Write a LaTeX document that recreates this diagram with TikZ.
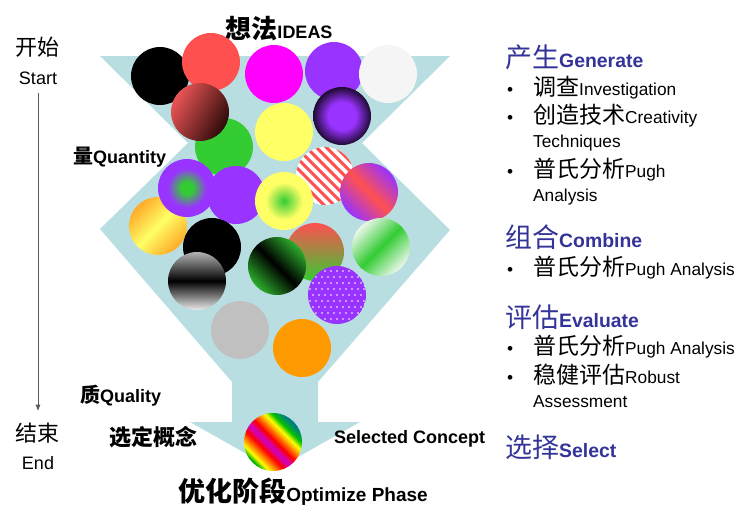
\documentclass[tikz,border=0pt]{standalone}
\usepackage{fontspec}
\setmainfont{Liberation Sans}
\newfontfamily\cjk{Noto Sans CJK SC}
\usetikzlibrary{arrows.meta}

\definecolor{funnel}{RGB}{185,222,226}
\definecolor{headblue}{RGB}{51,51,153}
\definecolor{salmon}{RGB}{255,80,80}
\definecolor{fuchsia}{RGB}{255,0,255}
\definecolor{vio}{RGB}{153,51,255}
\definecolor{grn}{RGB}{51,204,51}
\definecolor{ylw}{RGB}{255,255,102}
\definecolor{org}{RGB}{255,153,0}
\definecolor{silver}{RGB}{192,192,192}
\definecolor{snow}{RGB}{245,245,245}
\definecolor{ballred}{RGB}{235,85,85}
\definecolor{maroon}{RGB}{45,10,10}
\definecolor{amber}{RGB}{255,170,40}
\definecolor{mint}{RGB}{236,247,236}

\newcommand\zh[2][23]{{\cjk\fontsize{#1}{#1}\selectfont #2}}
\newcommand\bul{\makebox[26pt][l]{\textbullet}}

\pgfdeclareradialshading{purplecore}{\pgfpoint{0bp}{0bp}}{%
  color(0bp)=(vio); color(12bp)=(vio); color(25bp)=(vio!20!black); color(50bp)=(vio!20!black)}
\pgfdeclareradialshading{greencore}{\pgfpoint{0bp}{0bp}}{%
  color(0bp)=(grn); color(5bp)=(grn); color(17bp)=(vio); color(50bp)=(vio)}
\pgfdeclareradialshading{limecore}{\pgfpoint{0bp}{0bp}}{%
  color(0bp)=(grn); color(16bp)=(ylw); color(50bp)=(ylw)}
\pgfdeclarehorizontalshading{rainbow}{100bp}{%
  color(0bp)=(green!50!black); color(26bp)=(green!70!black); color(30bp)=(yellow);
  color(35bp)=(orange); color(40bp)=(red); color(46bp)=(magenta!60!violet);
  color(52bp)=(red); color(57bp)=(orange); color(62bp)=(yellow);
  color(67bp)=(green!75!black); color(73bp)=(teal); color(100bp)=(teal)}

\begin{document}
\begin{tikzpicture}[
  x=1pt, y=-1pt,
  lbl/.style={inner sep=0pt, font=\bfseries\fontsize{18}{18}\selectfont},
  head/.style={anchor=west, inner sep=0pt, text=headblue,
    font=\bfseries\fontsize{19.4}{20}\selectfont},
  item/.style={anchor=west, inner sep=0pt, font=\fontsize{17.3}{18}\selectfont},
  side/.style={inner sep=1pt, font=\fontsize{18}{18}\selectfont},
  timeline/.style={draw=black!65, line width=0.8pt,
    -{Triangle[length=6pt, width=4.5pt]}, shorten <=7pt, shorten >=11pt}
]
  \useasboundingbox (0,0) rectangle (742,507);

  % funnel body
  \fill[funnel] (100,56) -- (450,56) -- (362,143) -- (450,230) -- (318,382)
    -- (318,422) -- (360,422) -- (275,470) -- (190,422) -- (232,422)
    -- (232,382) -- (100,229) -- (188,143) -- cycle;

  % ideas, back to front
  \foreach \x/\y/\c in {160/76/black, 211/62/salmon, 274/74/fuchsia,
                        334/71/vio, 388/74/snow, 224/147/grn, 284/132/ylw}
    \fill[\c] (\x,\y) circle[radius=29pt];
  \shade[top color=ballred, bottom color=maroon, shading angle=60]
    (200,112) circle[radius=29pt];
  \shade[shading=purplecore] (342,116) circle[radius=29pt];
  \begin{scope}
    \clip (325,176) circle[radius=29pt];
    \fill[white] (325,176) circle[radius=29pt];
    \foreach \k in {-6,...,6}
      \draw[salmon, line width=3pt] (285+10*\k,136) -- ++(80,80);
  \end{scope}
  \shade[top color=amber, bottom color=amber, middle color=ylw, shading angle=45]
    (158,226) circle[radius=29pt];
  \fill[vio] (236,195) circle[radius=29pt];
  \shade[shading=greencore] (187,188) circle[radius=29pt];
  \shade[shading=limecore] (284,201) circle[radius=29pt];
  \shade[top color=vio, bottom color=vio, middle color=salmon, shading angle=-45]
    (369,192) circle[radius=29pt];
  \fill[black] (212,247) circle[radius=29pt];
  \shade[top color=salmon, bottom color=grn] (315,252) circle[radius=29pt];
  \shade[top color=mint, bottom color=mint, middle color=grn, shading angle=45]
    (381,247) circle[radius=29pt];
  \shade[top color=black!30, bottom color=black!8, middle color=black]
    (197,281) circle[radius=29pt];
  \shade[top color=grn!85!black, bottom color=grn!85!black, middle color=black,
    shading angle=-45] (277,266) circle[radius=29pt];
  \begin{scope}
    \clip (337,295) circle[radius=29pt];
    \fill[vio] (337,295) circle[radius=29pt];
    \foreach \i in {-5,...,5}
      \foreach \j in {-5,...,5}
        \fill[white] ({337+6*\i+3*mod(\j,2)},{295+6*\j}) circle[radius=0.8pt];
  \end{scope}
  \fill[silver] (240,330) circle[radius=29pt];
  \fill[org] (302,348) circle[radius=29pt];
  \shade[shading=rainbow, shading angle=45] (273,442) circle[radius=29pt];

  % labels round the funnel
  \node[lbl] (ideas) at (279,29) {\zh[26]{想法}IDEAS};
  \node[lbl, anchor=west] (quantity) at (73,157) {\zh[20]{量}Quantity};
  \node[lbl, anchor=west] (quality) at (80,396) {\zh[20]{质}Quality};
  \node[lbl, anchor=west] (xuanding) at (109,437) {\zh[22]{选定概念}};
  \node[lbl, anchor=west] (selected) at (334,439) {Selected Concept};
  \node[lbl] (optimize) at (303,492)
    {\zh[27]{优化阶段}\fontsize{19}{19}\selectfont Optimize Phase};

  % start to end
  \node[side] (kaishi) at (38,47) {\zh[22]{\mdseries 开始}};
  \node[side] (start) at (38,78) {Start};
  \node[side] (jieshu) at (38,433) {\zh[22]{\mdseries 结束}};
  \node[side] (end) at (38,463) {End};
  \draw[timeline] (start) -- (jieshu);

  % phases
  \node[head] (generate) at (505,57) {\zh[27]{\mdseries 产生}Generate};
  \node[item] (investigation) at (507,88) {\bul\zh{调查}Investigation};
  \node[item] (creativity) at (507,116) {\bul\zh{创造技术}Creativity};
  \node[item] (techniques) at (533,143) {Techniques};
  \node[item] (pugh) at (507,170) {\bul\zh{普氏分析}Pugh};
  \node[item] (analysis) at (533,197) {Analysis};
  \node[head] (combine) at (505,237) {\zh[27]{\mdseries 组合}Combine};
  \node[item] (pughcomb) at (507,268) {\bul\zh{普氏分析}Pugh Analysis};
  \node[head] (evaluate) at (505,317) {\zh[27]{\mdseries 评估}Evaluate};
  \node[item] (pugheval) at (507,347) {\bul\zh{普氏分析}Pugh Analysis};
  \node[item] (robust) at (507,375) {\bul\zh{稳健评估}Robust};
  \node[item] (assessment) at (533,402) {Assessment};
  \node[head] (select) at (505,447) {\zh[27]{\mdseries 选择}Select};
\end{tikzpicture}
\end{document}
